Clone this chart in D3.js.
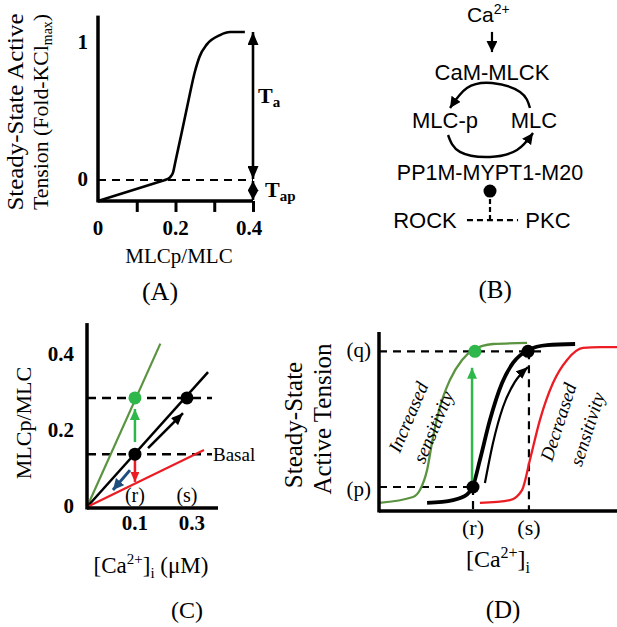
<!DOCTYPE html>
<html>
<head>
<meta charset="utf-8">
<script src="https://cdn.jsdelivr.net/npm/d3@7"></script>
<style>
body{margin:0;background:#fff}
svg{display:block}
text{font-family:"Liberation Serif","Times New Roman",serif;fill:#000}
.sans{font-family:"Liberation Sans",Arial,sans-serif}
</style>
</head>
<body>
<div id="fig"></div>
<script>
// ---- (A) tension vs MLCp/MLC
var tensionBase = [[0,-0.153],[0.173,0]];
var tensionCurve = [[0.173,0],[0.186,0.02],[0.194,0.058],[0.2,0.137],[0.217,0.36],[0.232,0.56],[0.25,0.79],[0.262,0.9],[0.281,0.99],[0.315,1.058],[0.341,1.08],[0.379,1.08]];
var aTicks = [0.1,0.2,0.3,0.4];
var aLabelsX = [0,0.2,0.4];
var aLabelsY = [0,1];
var aBase = -0.153, aTop = 1.08, aYmax = 1.2;

// ---- (B) pathway nodes (layout units)
var bNodes = [
  {label:"CaM-MLCK", x:0.511, y:0.333, size:22},
  {label:"MLC-p", x:0.25, y:0.533, size:22},
  {label:"MLC", x:0.744, y:0.533, size:22},
  {label:"PP1M-MYPT1-M20", x:0.5, y:0.75, size:21.5},
  {label:"ROCK", x:0.139, y:0.95, size:22},
  {label:"PKC", x:0.822, y:0.95, size:22}
];
var bUpperArc = [[0.722,0.45],[0.667,0.383],[0.511,0.346],[0.372,0.367],[0.278,0.45]];
var bLowerArc = [[0.267,0.5625],[0.333,0.633],[0.5,0.654],[0.65,0.625],[0.739,0.554]];

// ---- (C) MLCp/MLC vs Ca
var cLines = [
  {name:"increased", end:[0.56,0.43], color:"#5b9440", width:2.2},
  {name:"basal", end:[0.924,0.355], color:"#000", width:2.5},
  {name:"decreased", end:[0.893,0.15], color:"#ec1c24", width:2.2}
];
var cTicksY = [0,0.2,0.4];
var cTicksX = [{v:0.366,label:"0.1"},{v:0.80,label:"0.3"}];
var cR = 0.366, cS = 0.763;
var cLow = 0.139, cHigh = 0.287;

// ---- (D) tension vs Ca
var dGreen = [[0,0.045],[0.143,0.078],[0.172,0.117],[0.202,0.229],[0.227,0.413],[0.256,0.581],[0.298,0.732],[0.349,0.844],[0.395,0.899],[0.479,0.933],[0.622,0.939]];
var dBlack = [[0.202,0.045],[0.311,0.061],[0.370,0.092],[0.395,0.140],[0.424,0.285],[0.466,0.508],[0.517,0.715],[0.563,0.827],[0.626,0.899],[0.706,0.927],[0.824,0.933]];
var dRed = [[0.424,0.045],[0.550,0.061],[0.601,0.117],[0.634,0.285],[0.676,0.508],[0.731,0.715],[0.790,0.844],[0.857,0.911],[0.929,0.916],[1.0,0.916]];
var dArrow = [[0.445,0.156],[0.479,0.380],[0.521,0.581],[0.571,0.721],[0.626,0.804]];
var dP = 0.134, dQ = 0.892, dR = 0.395, dS = 0.630;

var green = "#5b9440", lightGreen = "#2eb84b", red = "#ec1c24", blue = "#1e4d7e";

var svg = d3.select("#fig").append("svg").attr("width",617).attr("height",627);
var defs = svg.append("defs");
function marker(id, color, len, wid){
  defs.append("marker").attr("id",id)
    .attr("viewBox","0 "+(-wid/2)+" "+len+" "+wid)
    .attr("refX",len).attr("refY",0)
    .attr("markerWidth",len).attr("markerHeight",wid)
    .attr("markerUnits","userSpaceOnUse")
    .attr("orient","auto-start-reverse")
    .append("path").attr("d","M0,"+(-wid/2)+"L"+len+",0L0,"+(wid/2)+"Z").attr("fill",color);
}
marker("hA","#000",13,11);
marker("hTap","#000",10,11);
marker("hB","#000",11,11);
marker("hK","#000",12,10);
marker("hG",lightGreen,11,10);
marker("hR",red,10,9);
marker("hBl",blue,11,11);

function seg(g, x1,y1,x2,y2, color, w, dash){
  return g.append("line").attr("x1",x1).attr("y1",y1).attr("x2",x2).attr("y2",y2)
    .attr("stroke",color).attr("stroke-width",w).attr("stroke-dasharray",dash||null);
}

// ================= A =================
var gA = svg.append("g");
var xA = d3.scaleLinear().domain([0,0.4]).range([98,253]);
var yA = d3.scaleLinear().domain([0,1]).range([180,43]);

gA.append("g").attr("transform","translate(0,"+yA(aBase)+")")
  .call(d3.axisBottom(xA).tickValues(aTicks).tickSize(11).tickSizeOuter(0).tickFormat(""))
  .call(function(g){g.select(".domain").remove();g.selectAll("line").attr("stroke-width",3);});
seg(gA, xA(0), yA(aBase), xA(0.4), yA(aBase), "#000", 3.5);
seg(gA, xA(0), yA(aBase)+1.5, xA(0), yA(aYmax), "#000", 3.5);
seg(gA, xA(0), yA(0), xA(0.4), yA(0), "#000", 2, "8,6");

var lineA = d3.line().x(function(d){return xA(d[0]);}).y(function(d){return yA(d[1]);});
gA.append("path").datum(tensionBase).attr("d", lineA)
  .attr("fill","none").attr("stroke","#000").attr("stroke-width",2.6).attr("stroke-linecap","round");
gA.append("path").datum(tensionCurve).attr("d", lineA.curve(d3.curveMonotoneX))
  .attr("fill","none").attr("stroke","#000").attr("stroke-width",2.6);

seg(gA, xA(0.4), yA(0)-1, xA(0.4), yA(aTop), "#000", 2.6)
  .attr("marker-start","url(#hA)").attr("marker-end","url(#hA)");
seg(gA, xA(0.4), yA(0)+1, xA(0.4), yA(aBase)-1, "#000", 2.6)
  .attr("marker-start","url(#hTap)").attr("marker-end","url(#hTap)");

gA.selectAll(".lx").data(aLabelsX).join("text")
  .attr("x",function(d){return xA(d) - (d===0.4 ? 4 : 0);}).attr("y",235)
  .attr("text-anchor","middle").attr("font-weight","bold").attr("font-size",21)
  .text(function(d){return d;});
gA.selectAll(".ly").data(aLabelsY).join("text")
  .attr("x",88).attr("y",function(d){return yA(d)+6;})
  .attr("text-anchor","end").attr("font-weight","bold").attr("font-size",21)
  .text(function(d){return d;});

var ta = gA.append("text").attr("x",258).attr("y",103).attr("font-weight","bold").attr("font-size",22);
ta.append("tspan").text("T");
ta.append("tspan").attr("dy",4).attr("font-size",15).text("a");
var tap = gA.append("text").attr("x",265).attr("y",197).attr("font-weight","bold").attr("font-size",22);
tap.append("tspan").text("T");
tap.append("tspan").attr("dy",4).attr("font-size",15).text("ap");

gA.append("text").attr("x",179).attr("y",263).attr("text-anchor","middle").attr("font-size",21).text("MLCp/MLC");
gA.append("text").attr("transform","translate(23,112) rotate(-90)").attr("text-anchor","middle")
  .attr("font-size",24).attr("textLength",197).attr("lengthAdjust","spacingAndGlyphs").text("Steady-State Active");
var yt = gA.append("text").attr("transform","translate(48,112) rotate(-90)").attr("text-anchor","middle")
  .attr("font-size",22).attr("textLength",196).attr("lengthAdjust","spacingAndGlyphs");
yt.append("tspan").text("Tension (Fold-KCl");
yt.append("tspan").attr("dy",4).attr("font-size",14).text("max");
yt.append("tspan").attr("dy",-4).text(")");
gA.append("text").attr("x",160).attr("y",300).attr("text-anchor","middle").attr("font-size",26).text("(A)");

// ================= B =================
var gB = svg.append("g");
var bx = d3.scaleLinear().domain([0,1]).range([400,580]);
var by = d3.scaleLinear().domain([0,1]).range([0,240]);

var ca = gB.append("text").attr("class","sans").attr("x",bx(0.372)).attr("y",by(0.092)).attr("font-size",21);
ca.append("tspan").text("Ca");
ca.append("tspan").attr("dy",-8).attr("font-size",14).text("2+");
seg(gB, bx(0.511), by(0.133), bx(0.511), by(0.217), "#000", 2.2).attr("marker-end","url(#hB)");

gB.selectAll(".node").data(bNodes).join("text").attr("class","sans")
  .attr("x",function(d){return bx(d.x);}).attr("y",function(d){return by(d.y);})
  .attr("text-anchor","middle").attr("font-size",function(d){return d.size;})
  .text(function(d){return d.label;});

var arcLine = d3.line().x(function(d){return bx(d[0]);}).y(function(d){return by(d[1]);}).curve(d3.curveNatural);
[bUpperArc,bLowerArc].forEach(function(a){
  gB.append("path").datum(a).attr("d",arcLine).attr("fill","none")
    .attr("stroke","#000").attr("stroke-width",2.4).attr("marker-end","url(#hB)");
});
gB.append("circle").attr("cx",bx(0.5)).attr("cy",by(0.796)).attr("r",6.5).attr("fill","#000");
seg(gB, bx(0.5), by(0.796), bx(0.5), by(0.917), "#000", 2.2, "5,3");
seg(gB, bx(0.372), by(0.917), bx(0.656), by(0.917), "#000", 2.2, "6,4");
gB.append("text").attr("x",bx(0.528)).attr("y",by(1.242)).attr("text-anchor","middle").attr("font-size",25).text("(B)");

// ================= C =================
var gC = svg.append("g");
var xC = d3.scaleLinear().domain([0,1]).range([87,218]);
var yC = d3.scaleLinear().domain([0,0.4]).range([507,355]);

seg(gC, xC(0), yC(cLow), xC(0.954), yC(cLow), "#000", 2.5, "9,6");
seg(gC, xC(0), yC(cHigh), xC(0.954), yC(cHigh), "#000", 2.5, "9,6");

cLines.forEach(function(l){
  seg(gC, xC(0), yC(0), xC(l.end[0]), yC(l.end[1]), l.color, l.width);
});
seg(gC, xC(0), yC(0)+1, xC(1), yC(0)+1, "#000", 3.5);
seg(gC, xC(0), yC(0)+2.5, xC(0), yC(0.484), "#000", 3.5);

seg(gC, xC(cR), yC(0.171), xC(cR), yC(0.258), lightGreen, 2.5).attr("marker-end","url(#hG)");
seg(gC, xC(cR), yC(0.124), xC(cR), yC(0.066), red, 2.5).attr("marker-end","url(#hR)");
seg(gC, xC(0.328), yC(0.097), xC(0.198), yC(0.045), blue, 3).attr("marker-end","url(#hBl)");
seg(gC, xC(0.466), yC(0.155), xC(0.733), yC(0.247), "#000", 2.5).attr("marker-end","url(#hK)");

gC.append("circle").attr("cx",xC(cR)).attr("cy",yC(cLow)).attr("r",6.5).attr("fill","#000");
gC.append("circle").attr("cx",xC(cS)).attr("cy",yC(cHigh)).attr("r",6.5).attr("fill","#000");
gC.append("circle").attr("cx",xC(cR)).attr("cy",yC(cHigh)).attr("r",6.5).attr("fill",lightGreen);

gC.append("text").attr("x",xC(0.962)).attr("y",yC(cLow)+7).attr("font-size",19).text("Basal");
gC.append("text").attr("x",xC(cR)).attr("y",502).attr("text-anchor","middle").attr("font-size",20).text("(r)");
gC.append("text").attr("x",xC(cS)).attr("y",502).attr("text-anchor","middle").attr("font-size",20).text("(s)");

gC.selectAll(".tx").data(cTicksX).join("text")
  .attr("x",function(d){return xC(d.v);}).attr("y",530)
  .attr("text-anchor","middle").attr("font-weight","bold").attr("font-size",21)
  .text(function(d){return d.label;});
gC.selectAll(".ty").data(cTicksY).join("text")
  .attr("x",74).attr("y",function(d){return yC(d)+6;})
  .attr("text-anchor","end").attr("font-weight","bold").attr("font-size",21)
  .text(function(d){return d;});

var cxT = gC.append("text").attr("x",151).attr("y",573).attr("text-anchor","middle").attr("font-size",23);
cxT.append("tspan").text("[Ca");
cxT.append("tspan").attr("dy",-9).attr("font-size",15).text("2+");
cxT.append("tspan").attr("dy",9).text("]");
cxT.append("tspan").attr("dy",5).attr("font-size",15).text("i");
cxT.append("tspan").attr("dy",-5).text(" (\u03bcM)");
gC.append("text").attr("transform","translate(31,423) rotate(-90)").attr("text-anchor","middle")
  .attr("font-size",22).text("MLCp/MLC");
gC.append("text").attr("x",187).attr("y",618).attr("text-anchor","middle").attr("font-size",24).text("(C)");

// ================= D =================
var gD = svg.append("g");
var xD = d3.scaleLinear().domain([0,1]).range([379,617]);
var yD = d3.scaleLinear().domain([0,1]).range([511,332]);

seg(gD, xD(0), yD(dQ), xD(0.706), yD(dQ), "#000", 2.2, "8,6");
seg(gD, xD(0), yD(dP), xD(dR), yD(dP), "#000", 2.2, "8,6");
seg(gD, xD(dR), yD(dP), xD(dR), yD(0), "#000", 2.2, "8,6");
seg(gD, xD(dS), yD(dQ), xD(dS), yD(0), "#000", 2.2, "8,6");

var lineD = d3.line().x(function(d){return xD(d[0]);}).y(function(d){return yD(d[1]);}).curve(d3.curveMonotoneX);
gD.append("path").datum(dGreen).attr("d",lineD).attr("fill","none").attr("stroke",green).attr("stroke-width",2.3);
gD.append("path").datum(dRed).attr("d",lineD).attr("fill","none").attr("stroke",red).attr("stroke-width",2.3);
gD.append("path").datum(dBlack).attr("d",lineD).attr("fill","none").attr("stroke","#000").attr("stroke-width",3.8);
gD.append("path").datum(dArrow).attr("d",lineD).attr("fill","none").attr("stroke","#000").attr("stroke-width",2.2).attr("marker-end","url(#hK)");

seg(gD, xD(0.391), yD(0.156), xD(0.391), yD(0.80), lightGreen, 2.5).attr("marker-end","url(#hG)");

seg(gD, xD(0), yD(0), xD(1), yD(0), "#000", 3.5);
seg(gD, xD(0), yD(0)+1.5, xD(0), yD(1), "#000", 3.5);

gD.append("circle").attr("cx",xD(dR)).attr("cy",yD(dP)).attr("r",6.5).attr("fill","#000");
gD.append("circle").attr("cx",xD(0.626)).attr("cy",yD(dQ)).attr("r",6.5).attr("fill","#000");
gD.append("circle").attr("cx",xD(0.403)).attr("cy",yD(dQ)).attr("r",6.5).attr("fill",lightGreen);

gD.append("text").attr("x",371).attr("y",yD(dQ)+6).attr("text-anchor","end").attr("font-size",21).text("(q)");
gD.append("text").attr("x",371).attr("y",yD(dP)+9).attr("text-anchor","end").attr("font-size",21).text("(p)");
gD.append("text").attr("x",xD(dR)).attr("y",535).attr("text-anchor","middle").attr("font-size",22).text("(r)");
gD.append("text").attr("x",xD(dS)).attr("y",535).attr("text-anchor","middle").attr("font-size",22).text("(s)");

var dxT = gD.append("text").attr("x",498).attr("y",567).attr("text-anchor","middle").attr("font-size",24);
dxT.append("tspan").text("[Ca");
dxT.append("tspan").attr("dy",-9).attr("font-size",16).text("2+");
dxT.append("tspan").attr("dy",9).text("]");
dxT.append("tspan").attr("dy",6).attr("font-size",16).text("i");

gD.append("text").attr("transform","translate(302,425) rotate(-90)").attr("text-anchor","middle").attr("font-size",25).text("Steady-State");
gD.append("text").attr("transform","translate(331,419) rotate(-90)").attr("text-anchor","middle").attr("font-size",25).text("Active Tension");

[["Increased",408,417,-67],["sensitivity",433,427,-67],["Decreased",558,422,-72],["sensitivity",587,429,-72]].forEach(function(t){
  gD.append("text").attr("transform","translate("+t[1]+","+t[2]+") rotate("+t[3]+")")
    .attr("text-anchor","middle").attr("dy","0.35em").attr("font-style","italic").attr("font-size",19).text(t[0]);
});
gD.append("text").attr("x",503).attr("y",618).attr("text-anchor","middle").attr("font-size",25).text("(D)");
</script>
</body>
</html>
